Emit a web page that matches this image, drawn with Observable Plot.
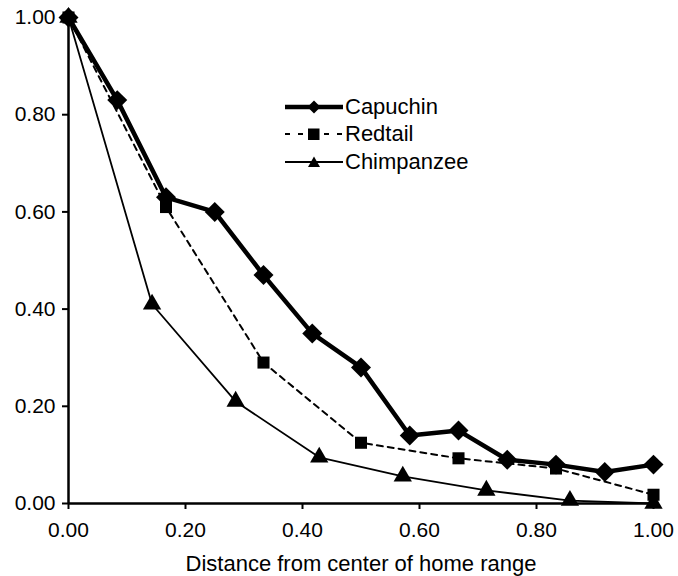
<!DOCTYPE html>
<html>
<head>
<meta charset="utf-8">
<script src="https://cdn.jsdelivr.net/npm/d3@7"></script>
<script src="https://cdn.jsdelivr.net/npm/@observablehq/plot@0.6"></script>
<style>
  html, body { margin: 0; padding: 0; background: #fff; }
  #wrap { position: relative; width: 678px; height: 576px; font-family: "Liberation Sans", Arial, sans-serif; }
  #wrap > svg text { fill: #000; }
  #wrap > svg g[aria-label="x-axis tick label"] text,
  #wrap > svg g[aria-label="y-axis tick label"] text { font-size: 21px; }
  #wrap > svg g[aria-label="x-axis label"] text { font-size: 22px; }
  #legend { position: absolute; left: 285px; top: 93px; font-size: 22px; color: #000; }
  #legend div { display: flex; align-items: center; height: 27.5px; }
  #legend svg { margin-right: 2px; display: block; }
</style>
</head>
<body>
<div id="wrap"></div>
<script>
const seriesNames = ["Capuchin", "Redtail", "Chimpanzee"];
const capuchinX = [0, 1/12, 2/12, 3/12, 4/12, 5/12, 6/12, 7/12, 8/12, 9/12, 10/12, 11/12, 1];
const capuchinY = [1.00, 0.83, 0.63, 0.60, 0.47, 0.35, 0.28, 0.14, 0.15, 0.09, 0.08, 0.065, 0.08];
const redtailX = [0, 1/6, 2/6, 3/6, 4/6, 5/6, 1];
const redtailY = [1.00, 0.61, 0.29, 0.125, 0.093, 0.072, 0.018];
const chimpX = [0, 1/7, 2/7, 3/7, 4/7, 5/7, 6/7, 1];
const chimpY = [1.00, 0.41, 0.21, 0.095, 0.056, 0.027, 0.006, 0.0];
const ticks = [0, 0.2, 0.4, 0.6, 0.8, 1.0];
const xLabel = "Distance from center of home range";

const toRows = (xs, ys, s) => xs.map((x, i) => ({x, y: ys[i], s}));
const cap = toRows(capuchinX, capuchinY, seriesNames[0]);
const red = toRows(redtailX, redtailY, seriesNames[1]);
const chi = toRows(chimpX, chimpY, seriesNames[2]);

const fmt = d3.format(".2f");

const plot = Plot.plot({
  width: 678,
  height: 576,
  marginLeft: 68,
  marginRight: 25,
  marginTop: 17,
  marginBottom: 73,
  style: {fontFamily: "Liberation Sans, Arial, sans-serif", fontSize: "21px", color: "#000", background: "#fff"},
  x: {domain: [0, 1]},
  y: {domain: [0, 1]},
  marks: [
    Plot.axisY({ticks, tickFormat: fmt, tickSize: 6, tickPadding: 7, strokeWidth: 2, label: null}),
    Plot.axisX({ticks, tickFormat: fmt, tickSize: 6, tickPadding: 13, strokeWidth: 2, label: xLabel, labelAnchor: "center", labelArrow: "none", labelOffset: 67}),
    Plot.ruleX([0], {stroke: "#000", strokeWidth: 2.5}),
    Plot.ruleY([0], {stroke: "#000", strokeWidth: 2.5}),
    Plot.line(chi, {x: "x", y: "y", stroke: "#000", strokeWidth: 1.8}),
    Plot.line(red, {x: "x", y: "y", stroke: "#000", strokeWidth: 2, strokeDasharray: "6,5"}),
    Plot.line(cap, {x: "x", y: "y", stroke: "#000", strokeWidth: 4.5}),
    Plot.dot(chi, {x: "x", y: "y", symbol: "triangle", fill: "#000", r: 6.8}),
    Plot.dot(red, {x: "x", y: "y", symbol: "square", fill: "#000", r: 6.8}),
    Plot.dot(cap, {x: "x", y: "y", symbol: "diamond2", fill: "#000", stroke: "none", r: 9})
  ]
});
document.getElementById("wrap").appendChild(plot);

// legend
const legend = document.createElement("div");
legend.id = "legend";
const legendStyles = [
  {w: 4.5, dash: null, sym: "diamond"},
  {w: 2, dash: "5,8", sym: "square"},
  {w: 1.8, dash: null, sym: "triangle"}
];
seriesNames.forEach((name, i) => {
  const st = legendStyles[i];
  const row = document.createElement("div");
  let sym;
  if (st.sym === "diamond") sym = '<path d="M29,-6.5 L35.5,0 L29,6.5 L22.5,0 Z" fill="#000"/>';
  else if (st.sym === "square") sym = '<rect x="23" y="-5.5" width="11.5" height="11.5" fill="#000"/>';
  else sym = '<path d="M29,-5.5 L35,5 L23,5 Z" fill="#000"/>';
  row.innerHTML = `<svg width="58" height="20" viewBox="0 -10 58 20"><line x1="0" x2="58" y1="0" y2="0" stroke="#000" stroke-width="${st.w}" ${st.dash ? `stroke-dasharray="${st.dash}"` : ""}/>${sym}</svg><span>${name}</span>`;
  legend.appendChild(row);
});
document.getElementById("wrap").appendChild(legend);
</script>
</body>
</html>
